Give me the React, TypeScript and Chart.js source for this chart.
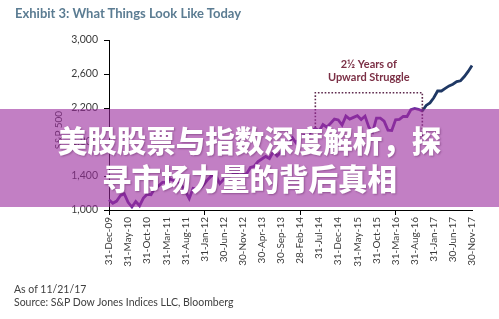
import React, { useEffect, useRef } from "react";
import { Chart, registerables } from "chart.js";

Chart.register(...registerables);

const monthLabels: string[] = [
  "31-Dec-09",
  "31-Jan-10", "28-Feb-10", "31-Mar-10", "30-Apr-10", "31-May-10", "30-Jun-10", "31-Jul-10", "31-Aug-10", "30-Sep-10", "31-Oct-10", "30-Nov-10", "31-Dec-10",
  "31-Jan-11", "28-Feb-11", "31-Mar-11", "30-Apr-11", "31-May-11", "30-Jun-11", "31-Jul-11", "31-Aug-11", "30-Sep-11", "31-Oct-11", "30-Nov-11", "31-Dec-11",
  "31-Jan-12", "29-Feb-12", "31-Mar-12", "30-Apr-12", "31-May-12", "30-Jun-12", "31-Jul-12", "31-Aug-12", "30-Sep-12", "31-Oct-12", "30-Nov-12", "31-Dec-12",
  "31-Jan-13", "28-Feb-13", "31-Mar-13", "30-Apr-13", "31-May-13", "30-Jun-13", "31-Jul-13", "31-Aug-13", "30-Sep-13", "31-Oct-13", "30-Nov-13", "31-Dec-13",
  "31-Jan-14", "28-Feb-14", "31-Mar-14", "30-Apr-14", "31-May-14", "30-Jun-14", "31-Jul-14", "31-Aug-14", "30-Sep-14", "31-Oct-14", "30-Nov-14", "31-Dec-14",
  "31-Jan-15", "28-Feb-15", "31-Mar-15", "30-Apr-15", "31-May-15", "30-Jun-15", "31-Jul-15", "31-Aug-15", "30-Sep-15", "31-Oct-15", "30-Nov-15", "31-Dec-15",
  "31-Jan-16", "29-Feb-16", "31-Mar-16", "30-Apr-16", "31-May-16", "30-Jun-16", "31-Jul-16", "31-Aug-16", "30-Sep-16", "31-Oct-16", "30-Nov-16", "31-Dec-16",
  "31-Jan-17", "28-Feb-17", "31-Mar-17", "30-Apr-17", "31-May-17", "30-Jun-17", "31-Jul-17", "31-Aug-17", "30-Sep-17", "31-Oct-17", "30-Nov-17",
];

const spxValues: number[] = [
  1120,
  1080, 1105, 1170, 1190, 1090, 1035, 1100, 1050, 1140, 1185, 1180, 1258,
  1285, 1325, 1325, 1365, 1345, 1320, 1290, 1220, 1135, 1255, 1245, 1258,
  1310, 1365, 1410, 1400, 1310, 1360, 1380, 1405, 1440, 1410, 1415, 1425,
  1500, 1515, 1570, 1600, 1630, 1605, 1685, 1635, 1680, 1755, 1805, 1850,
  1785, 1860, 1875, 1885, 1925, 1960, 1930, 2005, 1975, 2020, 2070, 2060,
  2000, 2105, 2070, 2090, 2110, 2065, 2105, 1975, 1920, 2080, 2080, 2045,
  1940, 1935, 2060, 2065, 2100, 2100, 2180, 2195, 2185, 2165, 2230, 2260,
  2320, 2400, 2400, 2430, 2460, 2480, 2510, 2520, 2570, 2630, 2700,
];

const yTicks: number[] = [1000, 1400, 1800, 2200, 2600, 3000];
const labelEvery = 5;
const splitIndex = 82; // colour change (late 2016)
const struggleStart = 54;
const struggleEnd = 82;
const struggleTop = 2380;
const struggleBottom = 1850;
const annotationLines: string[] = ["2½ Years of", "Upward Struggle"];

const PURPLE = "#7030a0";
const NAVY = "#1f3864";
const FONT = "Lato, 'Open Sans', sans-serif";

const strugglePlugin = {
  id: "struggle",
  afterDatasetsDraw(chart: any) {
    const { ctx, scales } = chart;
    const x = scales.x;
    const y = scales.y;
    const x0 = x.getPixelForValue(struggleStart);
    const x1 = x.getPixelForValue(struggleEnd);
    const y0 = y.getPixelForValue(struggleTop);
    const y1 = y.getPixelForValue(struggleBottom);
    ctx.save();
    ctx.strokeStyle = "#5e2a4e";
    ctx.lineWidth = 1.6;
    ctx.setLineDash([1.6, 1.8]);
    ctx.beginPath();
    ctx.moveTo(x0, y1);
    ctx.lineTo(x0, y0);
    ctx.lineTo(x1, y0);
    ctx.lineTo(x1, y1);
    ctx.stroke();
    ctx.setLineDash([]);
    ctx.fillStyle = "#7b2f45";
    ctx.font = `bold 11px ${FONT}`;
    ctx.textAlign = "center";
    ctx.textBaseline = "middle";
    const cx = (x0 + x1) / 2;
    ctx.fillText(annotationLines[0], cx, y0 - 28);
    ctx.fillText(annotationLines[1], cx, y0 - 15);
    ctx.restore();
  },
};

export default function App() {
  const ref = useRef<HTMLCanvasElement | null>(null);

  useEffect(() => {
    if (!ref.current) return;
    const chart = new Chart(ref.current, {
      type: "line",
      data: {
        labels: monthLabels,
        datasets: [
          {
            data: spxValues,
            borderColor: PURPLE,
            borderWidth: 2.8,
            pointRadius: 0,
            tension: 0,
            segment: {
              borderColor: (c: any) => (c.p0DataIndex >= splitIndex ? NAVY : PURPLE),
            },
          },
        ],
      },
      options: {
        animation: false,
        responsive: false,
        maintainAspectRatio: false,
        layout: { padding: { left: 0, top: 40, right: 27, bottom: 49 } },
        plugins: { legend: { display: false }, tooltip: { enabled: false } },
        scales: {
          x: {
            type: "category",
            offset: false,
            afterFit: (s: any) => {
              s.height = 60;
            },
            border: { display: true, color: "#000", width: 1 },
            grid: {
              drawOnChartArea: false,
              tickLength: 5,
              tickColor: (c: any) => (c.index % labelEvery === 0 ? "#000" : "rgba(0,0,0,0)"),
            },
            ticks: {
              autoSkip: false,
              maxRotation: 90,
              minRotation: 90,
              padding: 2,
              color: "#3a3a3a",
              font: { family: FONT, size: 10 },
              callback: (_v: any, i: number) => (i % labelEvery === 0 ? monthLabels[i] : null),
            },
          },
          y: {
            min: 1000,
            max: 3000,
            afterFit: (s: any) => {
              s.width = 109;
            },
            afterBuildTicks: (s: any) => {
              s.ticks = yTicks.map((v) => ({ value: v }));
            },
            border: { display: true, color: "#000", width: 1 },
            grid: { drawOnChartArea: false, tickLength: 5, tickColor: "#000" },
            ticks: {
              padding: 6,
              color: "#3a3a3a",
              font: { family: FONT, size: 10.5 },
              callback: (v: any) => Number(v).toLocaleString("en-US"),
            },
          },
        },
      },
      plugins: [strugglePlugin],
    });
    return () => chart.destroy();
  }, []);

  return (
    <div style={{ position: "fixed", left: 0, top: 0, width: 499, height: 319, background: "#fff", overflow: "hidden" }}>
      <canvas ref={ref} width={499} height={319} style={{ position: "absolute", left: 0, top: 0, width: 499, height: 319 }} />
      <div style={{ position: "absolute", left: 15, top: 5, fontFamily: FONT, fontWeight: 700, fontSize: 13, color: "#5b7c92", whiteSpace: "nowrap" }}>
        Exhibit 3: What Things Look Like Today
      </div>
      <div style={{ position: "absolute", left: 58, top: 130, transform: "translate(-50%, -50%) rotate(-90deg)", fontFamily: FONT, fontSize: 10, color: "#3a3a3a", whiteSpace: "nowrap" }}>
        S&amp;P 500
      </div>
      <div style={{ position: "absolute", left: 0, top: 109, width: 499, height: 98, background: "rgba(153,42,157,0.6)" }} />
      <div style={{ position: "absolute", left: 0, top: 109, width: 499, height: 98, display: "flex", flexDirection: "column", alignItems: "center", justifyContent: "center", fontFamily: "'Noto Sans CJK SC', sans-serif", fontWeight: 900, fontSize: 29.5, lineHeight: "38px", color: "#fff", textShadow: "1px 1px 2px rgba(60,0,60,0.35)", whiteSpace: "nowrap" }}>
        <div>美股股票与指数深度解析，探</div>
        <div>寻市场力量的背后真相</div>
      </div>
      <div style={{ position: "absolute", left: 14, top: 283, fontFamily: FONT, fontSize: 10.5, lineHeight: "13px", color: "#404040", whiteSpace: "nowrap" }}>
        <div>As of 11/21/17</div>
        <div>Source: S&amp;P Dow Jones Indices LLC, Bloomberg</div>
      </div>
    </div>
  );
}
